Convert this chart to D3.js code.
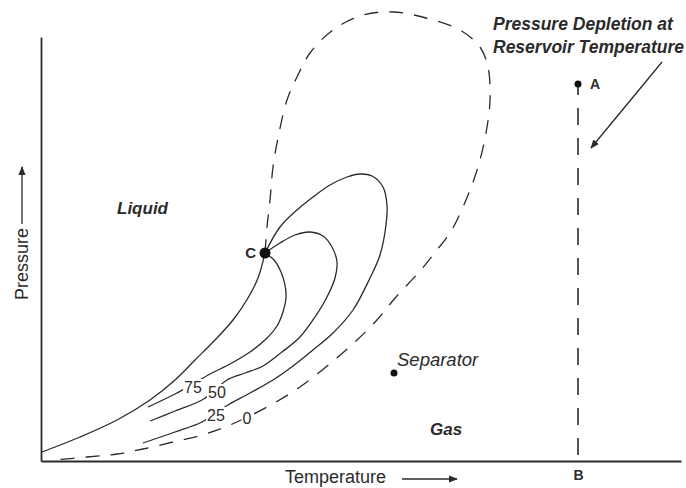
<!DOCTYPE html>
<html>
<head>
<meta charset="utf-8">
<script src="https://cdn.jsdelivr.net/npm/d3@7"></script>
<style>
  html, body { margin: 0; padding: 0; background: #fff; }
  svg { display: block; font-family: "Liberation Sans", Arial, Helvetica, sans-serif; }
</style>
</head>
<body>
<svg id="chart" width="686" height="488"></svg>
<script>
// ---- Data (arbitrary temperature / pressure units) ----
const dewPointCurve = [
  [224,208],[226,234],[229,261],[232,294],[238,328],[246,361],[256,384],[269,408],
  [292,431],[322,446],[352,449],[385,443],[419,431],[439,414],[447,394],[449,361],
  [445,328],[437,294],[425,261],[409,228],[395,210],[379,190],[355,164],[335,140],
  [315,120],[292,100],[259,74],[226,54],[189,36],[161,26],[132,19],[102,12],
  [76,7],[46,4],[12,1]
];
const bubblePointCurve = [
  [224,208],[217,183],[207,163],[192,141],[174,121],[154,101],[134,81],[109,61],
  [76,41],[39,24],[1,9]
];
const quality75 = [
  [224,208],[233,201],[240,189],[244,176],[245,163],[242,149],[236,135],[225,122],
  [209,109],[189,97],[169,87],[152,77],[134,67],[107,54]
];
const quality50 = [
  [224,208],[239,218],[254,226],[269,229],[282,225],[291,214],[296,199],[294,183],
  [286,164],[274,144],[259,124],[241,109],[222,95],[204,88],[186,81],[174,71],
  [161,61],[134,50],[109,40]
];
const quality25 = [
  [224,208],[239,234],[256,251],[272,264],[289,276],[306,284],[319,287],[331,285],
  [342,274],[346,256],[345,236],[339,206],[329,183],[312,151],[292,128],[272,111],
  [252,95],[232,81],[209,68],[187,56],[174,48],[161,39],[134,29],[102,18]
];
const qualityLabels = ["75", "50", "25", "0"];
const qualityLabelAt = [[152,74],[176,69],[175,46],[206,43]];
const criticalPoint = [224,208];
const separatorPoint = [353,88];
const reservoirPointA = [537,377];
const reservoirTemperature = 537;

// ---- Layout ----
const svg = d3.select("#chart");
const x = d3.scaleLinear().domain([0, 640]).range([41, 681]);
const y = d3.scaleLinear().domain([0, 424]).range([461, 37]);
const ink = "#2b2b2b";

const defs = svg.append("defs");
defs.append("marker").attr("id", "arr").attr("viewBox", "0 0 10 10")
  .attr("refX", 9).attr("refY", 5).attr("markerWidth", 9).attr("markerHeight", 9)
  .attr("markerUnits", "userSpaceOnUse").attr("orient", "auto")
  .append("path").attr("d", "M0,1 L10,5 L0,9 Z").attr("fill", ink);

// Axes
const yAxis = svg.append("g").attr("transform", `translate(${x(0)},0)`)
  .call(d3.axisLeft(y).tickValues([]).tickSizeOuter(0));
const xAxis = svg.append("g").attr("transform", `translate(0,${y(0)})`)
  .call(d3.axisBottom(x).tickValues([reservoirTemperature]).tickSize(0).tickPadding(9)
    .tickFormat(() => "B").tickSizeOuter(0));
[yAxis, xAxis].forEach(g => {
  g.select(".domain").attr("stroke", ink).attr("stroke-width", 1.8);
});
xAxis.selectAll(".tick text").attr("font-size", 14).attr("font-weight", "bold")
  .attr("fill", ink).attr("font-family", "Liberation Sans, Arial, sans-serif");

const line = d3.line().x(d => x(d[0])).y(d => y(d[1])).curve(d3.curveCatmullRom.alpha(0.5));

// Dew point (dashed envelope)
svg.append("path").datum(dewPointCurve).attr("d", line)
  .attr("fill", "none").attr("stroke", ink).attr("stroke-width", 1.3)
  .attr("stroke-dasharray", "14,11");

// Solid curves
[bubblePointCurve, quality75, quality50, quality25].forEach(c => {
  svg.append("path").datum(c).attr("d", line)
    .attr("fill", "none").attr("stroke", ink).attr("stroke-width", 1.3);
});

// Quality labels with white gaps
const ql = svg.append("g");
qualityLabels.forEach((t, i) => {
  const [tx, ty] = qualityLabelAt[i];
  const g = ql.append("g").attr("transform", `translate(${x(tx)},${y(ty)})`);
  const w = t.length * 9 + 2;
  g.append("rect").attr("x", -w / 2).attr("y", -8).attr("width", w).attr("height", 15).attr("fill", "#fff");
  g.append("text").attr("text-anchor", "middle").attr("dy", "0.35em")
    .attr("font-size", 16).attr("fill", ink).text(t);
});

// Critical point
svg.append("circle").attr("cx", x(criticalPoint[0])).attr("cy", y(criticalPoint[1]))
  .attr("r", 5.5).attr("fill", "#111");
svg.append("text").attr("x", x(criticalPoint[0]) - 9).attr("y", y(criticalPoint[1]))
  .attr("dy", "0.36em").attr("text-anchor", "end").attr("font-size", 15)
  .attr("font-weight", "bold").attr("fill", ink).text("C");

// Separator
svg.append("circle").attr("cx", x(separatorPoint[0])).attr("cy", y(separatorPoint[1]))
  .attr("r", 3.5).attr("fill", "#111");
svg.append("text").attr("x", x(separatorPoint[0]) + 3).attr("y", y(separatorPoint[1]) - 7)
  .attr("font-size", 18.5).attr("font-style", "italic").attr("fill", ink).text("Separator");

// Reservoir depletion line A -> B
svg.append("line").attr("x1", x(reservoirTemperature)).attr("x2", x(reservoirTemperature))
  .attr("y1", y(reservoirPointA[1])).attr("y2", y(0))
  .attr("stroke", ink).attr("stroke-width", 1.6).attr("stroke-dasharray", "17,13")
  .attr("stroke-dashoffset", 6);
svg.append("circle").attr("cx", x(reservoirPointA[0])).attr("cy", y(reservoirPointA[1]))
  .attr("r", 3.5).attr("fill", "#111");
svg.append("text").attr("x", x(reservoirPointA[0]) + 12).attr("y", y(reservoirPointA[1]))
  .attr("dy", "0.36em").attr("font-size", 14).attr("font-weight", "bold")
  .attr("fill", ink).text("A");

// Region labels
svg.append("text").attr("x", x(76)).attr("y", y(247)).attr("font-size", 17)
  .attr("font-style", "italic").attr("font-weight", "bold").attr("fill", ink).text("Liquid");
svg.append("text").attr("x", x(389)).attr("y", y(26)).attr("font-size", 17)
  .attr("font-style", "italic").attr("font-weight", "bold").attr("fill", ink).text("Gas");

// Annotation
const ann = svg.append("text").attr("font-size", 17.5).attr("font-style", "italic")
  .attr("font-weight", "bold").attr("fill", ink);
ann.append("tspan").attr("x", 493).attr("y", 30).text("Pressure Depletion at");
ann.append("tspan").attr("x", 493).attr("y", 53).text("Reservoir Temperature");
svg.append("line").attr("x1", 662).attr("y1", 62).attr("x2", 591).attr("y2", 148)
  .attr("stroke", ink).attr("stroke-width", 1.3).attr("marker-end", "url(#arr)");

// Axis titles
svg.append("text").attr("x", 285).attr("y", 483).attr("font-size", 18)
  .attr("fill", ink).text("Temperature");
svg.append("line").attr("x1", 402).attr("y1", 479).attr("x2", 457).attr("y2", 479)
  .attr("stroke", ink).attr("stroke-width", 1.3).attr("marker-end", "url(#arr)");
svg.append("text").attr("transform", "translate(28,300) rotate(-90)")
  .attr("font-size", 18).attr("fill", ink).text("Pressure");
svg.append("line").attr("x1", 22).attr("y1", 224).attr("x2", 22).attr("y2", 167)
  .attr("stroke", ink).attr("stroke-width", 1.3).attr("marker-end", "url(#arr)");
</script>
</body>
</html>
